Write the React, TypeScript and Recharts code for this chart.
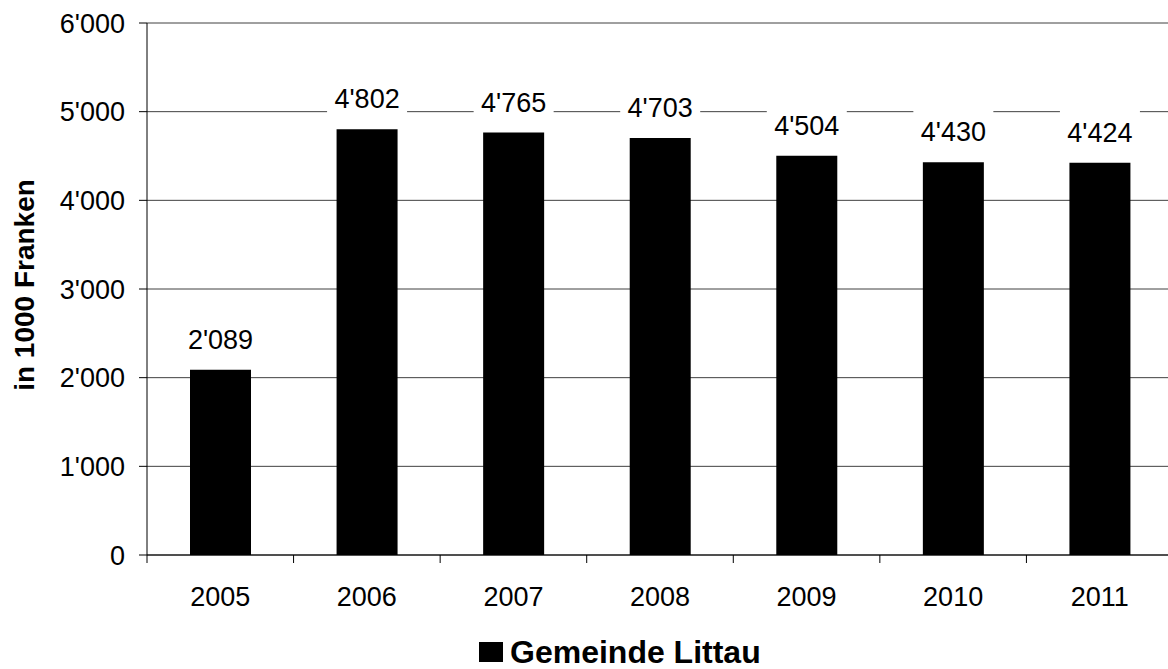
import React from 'react';
import { BarChart, Bar, XAxis, YAxis, CartesianGrid, Legend, LabelList } from 'recharts';

const years = ['2005', '2006', '2007', '2008', '2009', '2010', '2011'];
const values = [2089, 4802, 4765, 4703, 4504, 4430, 4424];
const yTicks = [0, 1000, 2000, 3000, 4000, 5000, 6000];

const seriesName = 'Gemeinde Littau';
const yTitle = 'in 1000 Franken';

const FONT = '"Liberation Sans", Arial, sans-serif';
const X_TICK_SIZE = 8;
const X_TICK_MARGIN = 24;

const data = years.map((year, i) => ({ year, value: values[i] }));

// Schweizer Tausendertrennzeichen: 4'802
const fmt = (v: number) => String(v).replace(/\B(?=(\d{3})+(?!\d))/g, "'");

const XTick = (props: any) => {
  const { x, y, payload } = props;
  const half = payload && payload.offset ? payload.offset : 73.3;
  const y0 = y - X_TICK_SIZE - X_TICK_MARGIN;
  return (
    <g>
      <line x1={x - half} x2={x - half} y1={y0} y2={y0 + X_TICK_SIZE} stroke="#000" />
      <text x={x} y={y} dy="0.71em" textAnchor="middle" fontSize={27} fontFamily={FONT} fill="#000">
        {payload.value}
      </text>
    </g>
  );
};

const ValueLabel = (props: any) => {
  const { x, y, width, value } = props;
  const cx = x + width / 2;
  const cy = y - 30;
  return (
    <g>
      <rect x={cx - 40} y={cy - 24} width={80} height={48} fill="#fff" />
      <text x={cx} y={cy} dominantBaseline="central" textAnchor="middle" fontSize={27} fontFamily={FONT} fill="#000">
        {fmt(value)}
      </text>
    </g>
  );
};

const YTitle = (props: any) => {
  const { viewBox } = props;
  const cx = viewBox.x + 24;
  const cy = viewBox.y + viewBox.height / 2 - 4;
  return (
    <text
      x={cx}
      y={cy}
      transform={`rotate(-90 ${cx} ${cy})`}
      textAnchor="middle"
      dominantBaseline="central"
      fontSize={28}
      fontWeight="bold"
      fontFamily={FONT}
      fill="#000"
    >
      {yTitle}
    </text>
  );
};

const LegendBox = () => (
  <div style={{ display: 'flex', alignItems: 'center', height: 32, fontFamily: FONT }}>
    <span style={{ width: 24, height: 20, background: '#000', display: 'inline-block', marginRight: 7 }} />
    <span style={{ fontSize: 32, lineHeight: '32px', fontWeight: 'bold', color: '#000' }}>{seriesName}</span>
  </div>
);

export default function App() {
  return (
    <div style={{ position: 'absolute', left: 0, top: 0, width: 1168, height: 669, overflow: 'hidden', background: '#fff' }}>
      <BarChart width={1173} height={669} data={data} margin={{ top: 23, right: 0, left: 0, bottom: 0 }}>
        <CartesianGrid vertical={false} stroke="#404040" strokeWidth={1} />
        <XAxis
          dataKey="year"
          axisLine={{ stroke: '#000' }}
          tickLine={false}
          tickSize={X_TICK_SIZE}
          tickMargin={X_TICK_MARGIN}
          tick={<XTick />}
          interval={0}
          height={114}
        />
        <YAxis
          domain={[0, 6000]}
          ticks={yTicks}
          tickFormatter={fmt}
          width={147}
          axisLine={{ stroke: '#000' }}
          tickLine={{ stroke: '#000' }}
          tickSize={8}
          tickMargin={14}
          tick={{ fontSize: 27, fontFamily: FONT, fill: '#000' }}
          label={<YTitle />}
        />
        <Legend
          layout="horizontal"
          verticalAlign="middle"
          align="center"
          wrapperStyle={{ top: 636, left: 479, width: 'auto' }}
          content={<LegendBox />}
        />
        <Bar dataKey="value" name={seriesName} fill="#000" barSize={61} isAnimationActive={false}>
          <LabelList dataKey="value" content={<ValueLabel />} />
        </Bar>
      </BarChart>
    </div>
  );
}
